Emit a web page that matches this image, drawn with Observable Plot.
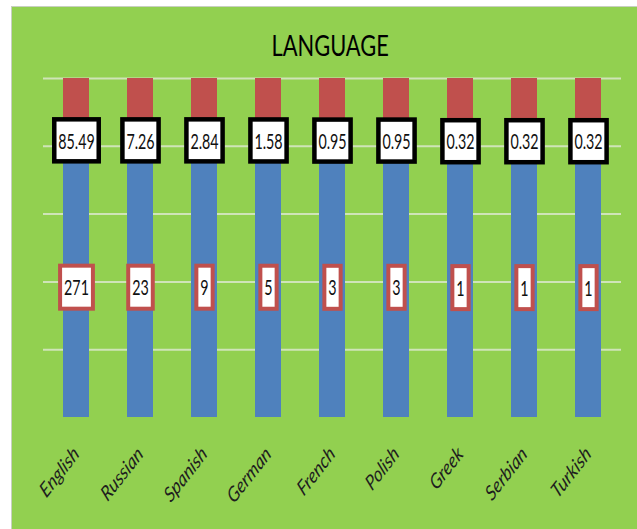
<!DOCTYPE html>
<html>
<head>
<meta charset="utf-8">
<script src="https://cdn.jsdelivr.net/npm/d3@7"></script>
<script src="https://cdn.jsdelivr.net/npm/@observablehq/plot@0.6"></script>
<style>
  html, body { margin: 0; padding: 0; background: #ffffff; width: 637px; height: 529px; overflow: hidden; }
  #panel { position: absolute; left: 11px; top: 6px; width: 626px; height: 523px; background: #92d050;
           border-left: 1px solid #c8d0c0; border-top: 1px solid #c8d0c0; box-sizing: border-box; }
  #title { position: absolute; left: 0; top: 22px; width: 626px; text-align: center; padding-left: 10px; box-sizing: border-box;
           font-family: Lato, "DejaVu Sans Condensed", sans-serif; font-size: 28px; line-height: 32px; color: #000; }
  #title span { display: inline-block; transform: scaleX(0.78); }
  #chart { position: absolute; left: 0px; top: 58px; }
  #chart svg { background: transparent; overflow: visible; }
</style>
</head>
<body>
<div id="panel">
  <div id="title"><span>LANGUAGE</span></div>
  <div id="chart"></div>
</div>
<script>
const languages = ["English", "Russian", "Spanish", "German", "French", "Polish", "Greek", "Serbian", "Turkish"];
const counts = [271, 23, 9, 5, 3, 3, 1, 1, 1];
const percents = [85.49, 7.26, 2.84, 1.58, 0.95, 0.95, 0.32, 0.32, 0.32];
const gridTicks = [0.2, 0.4, 0.6, 0.8, 1.0];

const rows = languages.map((language, i) => ({
  language,
  count: counts[i],
  percent: percents[i],
  frac: counts[i] / (counts[i] + percents[i])
}));

const font = "Lato, 'DejaVu Sans Condensed', sans-serif";
const SQUISH = 0.78;
const LABEL_SQUISH = 0.68;

const chart = Plot.plot({
  width: 625,
  height: 464,
  marginLeft: 31,
  marginRight: 16,
  marginTop: 13,
  marginBottom: 112,
  style: { fontFamily: font, fontSize: "21px", background: "transparent", overflow: "visible" },
  x: { domain: languages, paddingInner: 0.6, paddingOuter: 0.3, label: null, tickSize: 0, tickRotate: -45, tickPadding: 33 },
  y: { domain: [0, 1], axis: null },
  marks: [
    Plot.ruleY(gridTicks, { stroke: "#cfe4b8", strokeWidth: 2 }),
    Plot.barY(rows, { x: "language", y1: 0, y2: "frac", fill: "#4f81bd" }),
    Plot.barY(rows, { x: "language", y1: "frac", y2: 1, fill: "#c0504d" }),
    Plot.text(rows, { x: "language", y: "frac", text: d => d.percent.toFixed(2), dy: -18, fontSize: 21, fill: "#111" }),
    Plot.text(rows, { x: "language", y: d => d.frac / 2, text: d => String(d.count), fontSize: 21, fill: "#111" })
  ]
});

document.getElementById("chart").appendChild(chart);

// horizontally condense a text element around its anchor point
function squish(t, sx) {
  const tr = t.getAttribute("transform") || "";
  t.setAttribute("transform", tr + ` scale(${sx},1)`);
}

// x-axis tick labels: italic, condensed, rotated
const labelGroups = Array.from(chart.querySelectorAll("g")).filter(g => {
  const a = g.getAttribute("aria-label") || "";
  return a.startsWith("x-axis");
});
labelGroups.forEach(g => {
  g.querySelectorAll("text").forEach(t => {
    t.style.fontStyle = "italic";
    t.setAttribute("fill", "#1e1e1e");
    const tr = t.getAttribute("transform") || "";
    if (/rotate\(/.test(tr)) {
      t.setAttribute("transform", tr.replace(/rotate\(/, `scale(${SQUISH},1) rotate(`));
    }
  });
});

// draw label boxes behind the text labels produced by Plot
const textGroups = chart.querySelectorAll('g[aria-label="text"]');
const boxStyles = [
  { stroke: "#000000", width: 4.5, h: 42 },
  { stroke: "#c0504d", width: 4, h: 43 }
];
textGroups.forEach((g, gi) => {
  const st = boxStyles[gi] || boxStyles[0];
  g.querySelectorAll("text").forEach(t => {
    squish(t, LABEL_SQUISH);
    const b = t.getBBox();
    const cons = t.transform.baseVal.consolidate();
    const m = cons ? cons.matrix : { a: 1, d: 1, e: 0, f: 0 };
    const left = m.a * b.x + m.e;
    const w = m.a * b.width;
    const cy = m.d * (b.y + b.height / 2) + m.f;
    const r = document.createElementNS("http://www.w3.org/2000/svg", "rect");
    const rw = w + 8;
    r.setAttribute("x", left + w / 2 - rw / 2);
    r.setAttribute("y", cy - st.h / 2);
    r.setAttribute("width", rw);
    r.setAttribute("height", st.h);
    r.setAttribute("fill", "#ffffff");
    r.setAttribute("stroke", st.stroke);
    r.setAttribute("stroke-width", st.width);
    t.parentNode.insertBefore(r, t);
  });
});
</script>
</body>
</html>
